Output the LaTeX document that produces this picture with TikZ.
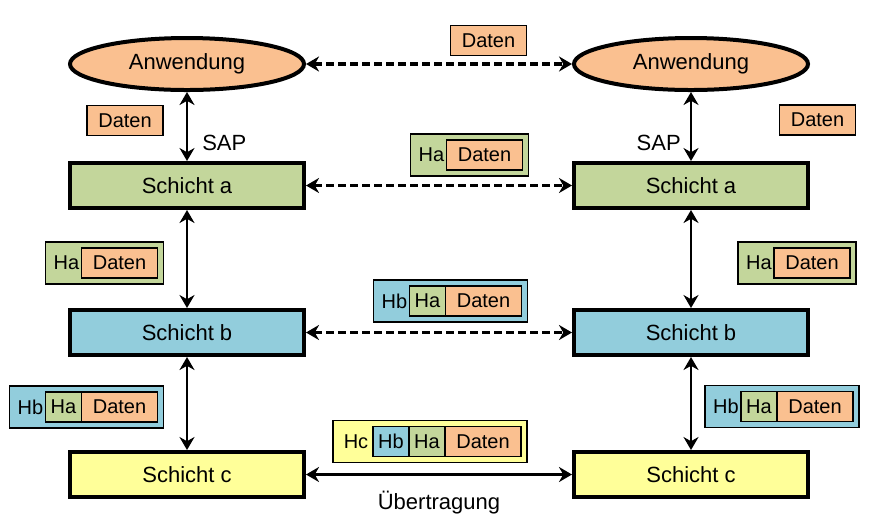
\documentclass[tikz,border=0pt]{standalone}
\usepackage{fontspec}
\setmainfont{Liberation Sans}
\usetikzlibrary{positioning,shapes.geometric,arrows.meta,fit,backgrounds}

\definecolor{datencol}{HTML}{FAC090}
\definecolor{hacol}{HTML}{C3D69B}
\definecolor{hbcol}{HTML}{92CDDC}
\definecolor{hccol}{HTML}{FFFF99}

\begin{document}
\begin{tikzpicture}[x=0.5pt, y=-0.5pt,
  layer node/.style={draw, line width=2pt, minimum width=117pt, minimum height=22.5pt, font=\fontsize{11}{13}\selectfont},
  app node/.style={layer node, ellipse, fill=datencol, minimum height=26pt},
  field/.style={draw, line width=0.75pt, outer sep=0pt, inner sep=0pt, minimum height=15pt, font=\fontsize{10}{12}\selectfont},
  daten/.style={field, fill=datencol, minimum width=38pt},
  ha field/.style={field, fill=hacol, minimum width=18pt},
  hb field/.style={field, fill=hbcol, minimum width=18pt},
  head/.style={inner sep=0pt, outer sep=0pt, minimum width=15pt, minimum height=15pt, font=\fontsize{10}{12}\selectfont},
  frame/.style={draw, line width=0.75pt, inner sep=3pt},
  sap/.style={line width=1pt, {Stealth[length=6.5pt,width=7.5pt]}-{Stealth[length=6.5pt,width=7.5pt]}},
  peer/.style={sap, line width=1.6pt, dash pattern=on 4pt off 2pt}]
\useasboundingbox (0,0) rectangle (887,527);

% the two stacks
\node[app node]                               (appl) at (187,64) {Anwendung};
\node[layer node, fill=hacol, below=34.5pt of appl] (al) {Schicht a};
\node[layer node, fill=hbcol, below=49pt of al]     (bl) {Schicht b};
\node[layer node, fill=hccol, below=46.5pt of bl]   (cl) {Schicht c};

\node[app node, right=133pt of appl]          (appr) {Anwendung};
\node[layer node, fill=hacol, right=133pt of al] (ar) {Schicht a};
\node[layer node, fill=hbcol, right=133pt of bl] (br) {Schicht b};
\node[layer node, fill=hccol, right=133pt of cl] (cr) {Schicht c};

\draw[sap] (appl) -- node[pos=0.74, right=3.8pt, font=\fontsize{11}{13}\selectfont] (sapl) {SAP} (al);
\draw[sap] (appr) -- node[pos=0.74, left=1.3pt, font=\fontsize{11}{13}\selectfont] (sapr) {SAP} (ar);
\draw[sap] (al) -- (bl);
\draw[sap] (bl) -- (cl);
\draw[sap] (ar) -- (br);
\draw[sap] (br) -- (cr);

\draw[peer] (appl) -- (appr);
\draw[peer] (al) -- (ar);
\draw[peer] (bl) -- (br);
\draw[sap, line width=1.5pt] (cl) -- node[below=4pt, font=\fontsize{11}{13}\selectfont] (uebertr) {Übertragung} (cr);

% data units
\node[daten] (d0) at (488.5,40.5) {Daten};
\node[daten] (d1) at (125,120.5) {Daten};
\node[daten] (d2) at (817.5,120) {Daten};

% Ha + Daten
\node[daten] (d3) at (484.5,155) {Daten};
\node[head, left=0pt of d3] (h3) {Ha};
\node[daten] (d4) at (119.5,263) {Daten};
\node[head, left=0pt of d4] (h4) {Ha};
\node[daten] (d5) at (812,263) {Daten};
\node[head, left=0pt of d5] (h5) {Ha};

% Hb + Ha + Daten
\node[daten] (d6) at (483.5,301) {Daten};
\node[ha field, left=0pt of d6] (a6) {Ha};
\node[head, left=0pt of a6] (h6) {Hb};
\node[daten] (d7) at (119.5,407) {Daten};
\node[ha field, left=0pt of d7] (a7) {Ha};
\node[head, left=0pt of a7] (h7) {Hb};
\node[daten] (d8) at (815,406.5) {Daten};
\node[ha field, left=0pt of d8] (a8) {Ha};
\node[head, left=0pt of a8] (h8) {Hb};

% Hc + Hb + Ha + Daten
\node[daten] (d9) at (483,441.5) {Daten};
\node[ha field, left=0pt of d9] (a9) {Ha};
\node[hb field, left=0pt of a9] (b9) {Hb};
\node[head, minimum width=17pt, left=0pt of b9] (h9) {Hc};

\begin{scope}[on background layer]
\node[frame, fill=hacol, fit=(h3)(d3)] (p3) {};
\node[frame, fill=hacol, fit=(h4)(d4)] (p4) {};
\node[frame, fill=hacol, fit=(h5)(d5)] (p5) {};
\node[frame, fill=hbcol, fit=(h6)(d6)] (p6) {};
\node[frame, fill=hbcol, fit=(h7)(d7)] (p7) {};
\node[frame, fill=hbcol, fit=(h8)(d8)] (p8) {};
\node[frame, fill=hccol, fit=(h9)(d9)] (p9) {};
\end{scope}
\end{tikzpicture}
\end{document}
